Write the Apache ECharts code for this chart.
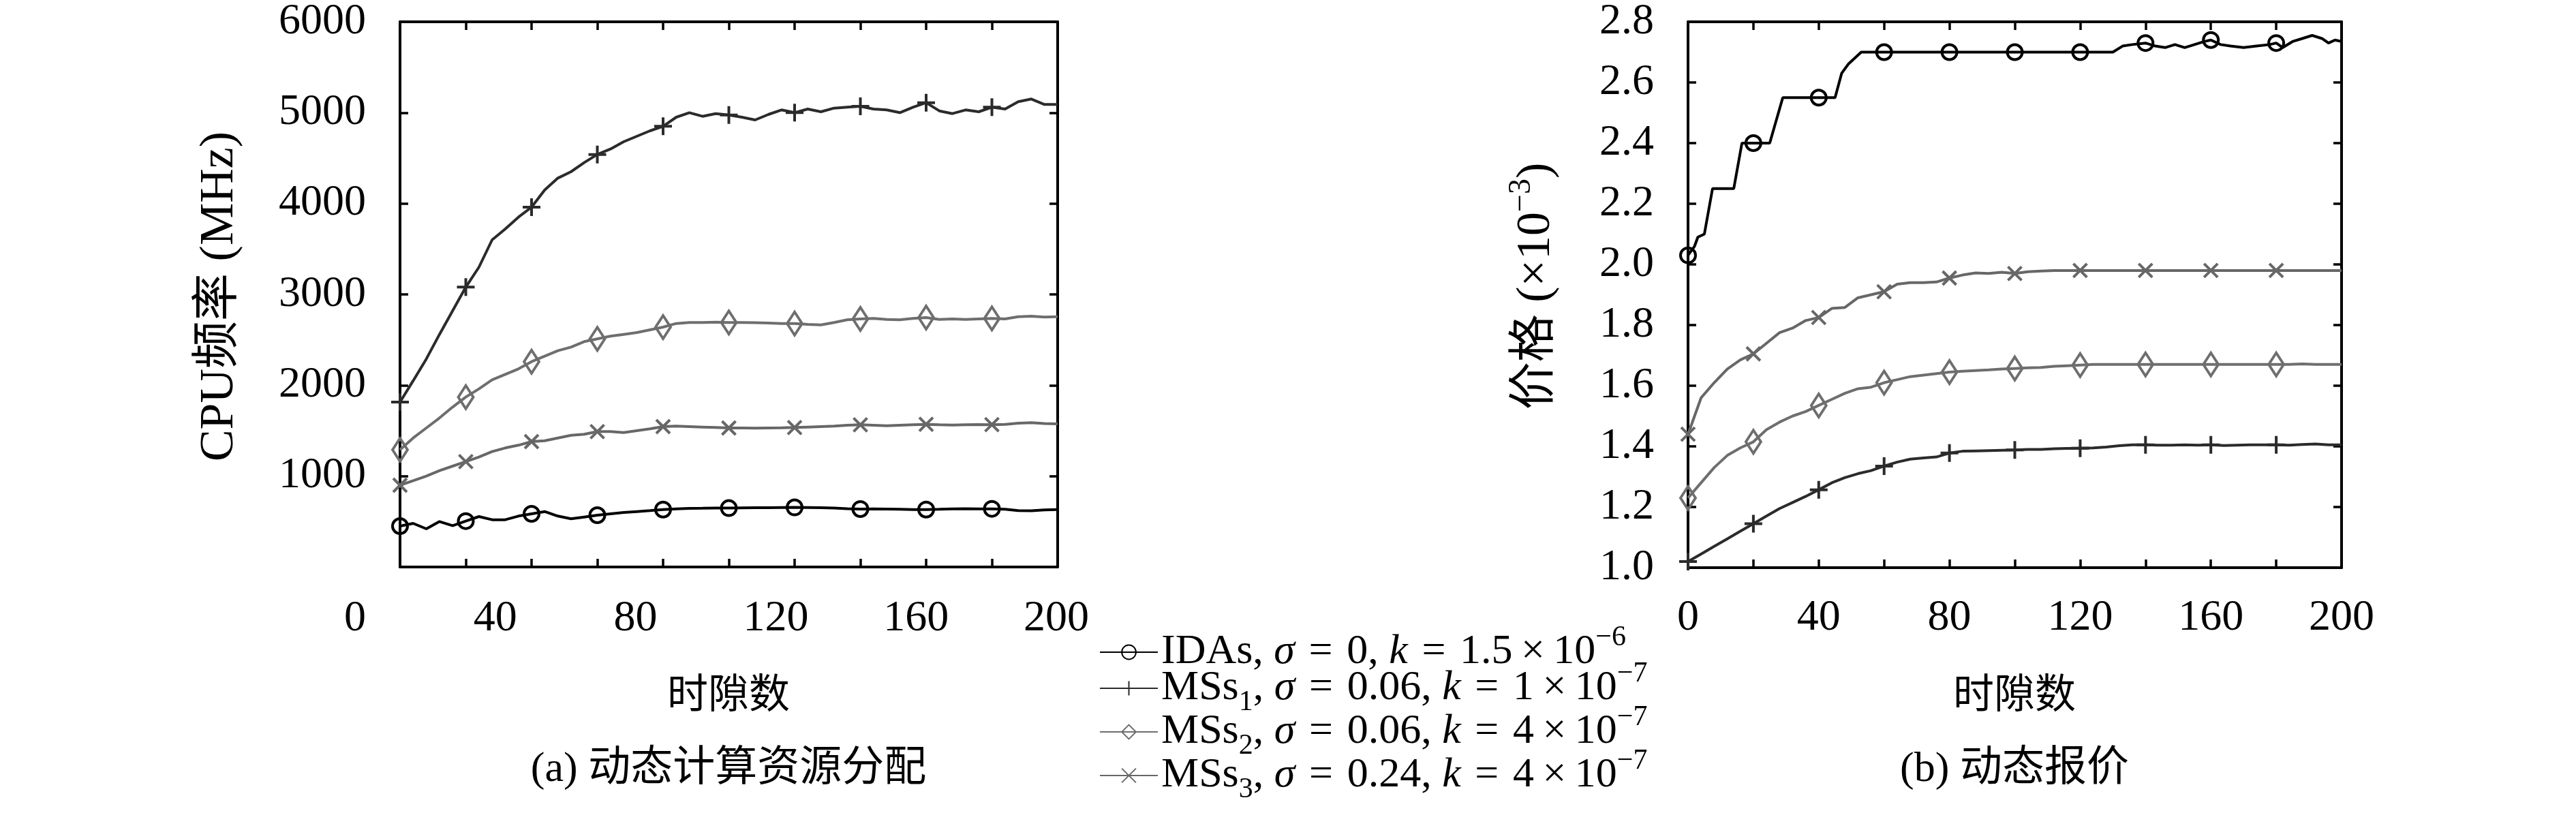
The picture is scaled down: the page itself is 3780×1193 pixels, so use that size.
<!DOCTYPE html>
<html>
<head>
<meta charset="utf-8">
<script src="https://cdn.jsdelivr.net/npm/echarts@6/dist/echarts.min.js"></script>
<style>
  html, body { margin: 0; padding: 0; background: #fff; }
  #chart { width: 3780px; height: 1193px; }
</style>
</head>
<body>
<div id="chart"></div>
<script>
// time slots (shared x values)
const slots = [0,4,8,12,16,20,24,28,32,36,40,44,48,52,56,60,64,68,72,76,80,84,88,92,96,100,
  104,108,112,116,120,124,128,132,136,140,144,148,152,156,160,164,168,172,176,180,184,188,192,196,200];

// (a) CPU frequency, MHz
const cpuIdas = [450,480,420,500,455,505,555,520,520,560,585,610,560,530,550,570,585,600,610,620,
  632,640,645,646,648,648,650,652,653,655,656,655,652,648,642,638,640,638,635,632,
  632,635,640,642,640,640,636,620,618,628,632];
const cpuMs1 = [1815,2050,2290,2560,2820,3080,3300,3600,3720,3850,3960,4150,4280,4350,4450,4540,4600,4680,4740,4800,
  4850,4950,5000,4960,4990,4975,4950,4920,4980,5030,5000,5040,5010,5050,5060,5070,5040,5030,5000,5060,
  5110,5020,4990,5030,5010,5060,5040,5120,5150,5090,5090];
const cpuMs2 = [1290,1420,1530,1640,1760,1870,1960,2060,2120,2180,2260,2320,2380,2420,2480,2510,2540,2560,2580,2610,
  2640,2680,2690,2690,2695,2690,2690,2688,2685,2680,2680,2670,2665,2690,2720,2730,2735,2725,2720,2735,
  2745,2725,2730,2725,2730,2735,2730,2755,2760,2750,2755];
const cpuMs3 = [900,950,1000,1060,1110,1160,1210,1270,1310,1340,1380,1390,1420,1450,1460,1490,1490,1480,1500,1520,
  1545,1550,1545,1540,1535,1530,1530,1528,1530,1532,1535,1540,1545,1550,1560,1565,1560,1555,1560,1565,
  1570,1565,1562,1565,1568,1566,1570,1582,1588,1578,1575];

// (b) price, x10^-3
const priceIdasX = [0,2,3,5,7.5,14,16.5,20,25,29,40,45,47,49,53,60,80,100,120,130,133,136,140,143,146,
  149,152,155,158,160,163,166,170,174,178,180,182,185,188,191,194,196,198,200];
const priceIdas = [2.03,2.06,2.09,2.10,2.25,2.25,2.40,2.40,2.40,2.55,2.55,2.55,2.63,2.66,2.70,2.70,2.70,2.70,2.70,2.70,
  2.72,2.725,2.73,2.72,2.715,2.725,2.715,2.725,2.735,2.74,2.725,2.72,2.715,2.72,2.725,2.73,2.715,2.735,2.745,2.755,
  2.745,2.73,2.74,2.735];
const priceMs1 = [1.02,1.045,1.07,1.095,1.12,1.145,1.17,1.195,1.215,1.235,1.257,1.28,1.297,1.31,1.32,1.335,1.348,1.358,1.362,1.365,
  1.378,1.384,1.385,1.386,1.387,1.388,1.39,1.39,1.392,1.393,1.394,1.395,1.398,1.402,1.405,1.405,1.404,1.404,1.405,1.404,
  1.405,1.403,1.404,1.405,1.405,1.405,1.404,1.406,1.408,1.405,1.405];
const priceMs2 = [1.23,1.28,1.33,1.37,1.395,1.415,1.455,1.48,1.50,1.515,1.535,1.555,1.575,1.59,1.595,1.61,1.62,1.63,1.635,1.64,
  1.645,1.648,1.65,1.652,1.655,1.657,1.659,1.66,1.664,1.666,1.668,1.67,1.67,1.67,1.67,1.67,1.67,1.67,1.67,1.67,
  1.67,1.67,1.67,1.67,1.67,1.67,1.67,1.672,1.67,1.67,1.67];
const priceMs3 = [1.44,1.56,1.61,1.655,1.685,1.705,1.74,1.775,1.79,1.815,1.825,1.855,1.858,1.89,1.90,1.91,1.935,1.94,1.94,1.942,
  1.955,1.965,1.972,1.97,1.974,1.97,1.976,1.978,1.98,1.98,1.98,1.98,1.98,1.98,1.98,1.98,1.98,1.98,1.98,1.98,
  1.98,1.98,1.98,1.98,1.98,1.98,1.98,1.98,1.98,1.98,1.98];

const cpuTicks = [0, 6000, 1000];
const priceTicks = [1.0, 2.8, 0.2];
const slotTicks = [0, 200, 20];

const seriesNames = ['IDAs', 'MSs1', 'MSs2', 'MSs3'];
// \u2004 / \u2009 mimic the math spacing round "=" and "×"
const legendTexts = [
  '{n|IDAs, }{i|σ}{n|\u2004=\u20040, }{i|k}{n|\u2004=\u20041.5\u2009×\u200910}{sup|−6}',
  '{n|MSs}{sub|1}{n|, }{i|σ}{n|\u2004=\u20040.06, }{i|k}{n|\u2004=\u20041\u2009×\u200910}{sup|−7}',
  '{n|MSs}{sub|2}{n|, }{i|σ}{n|\u2004=\u20040.06, }{i|k}{n|\u2004=\u20044\u2009×\u200910}{sup|−7}',
  '{n|MSs}{sub|3}{n|, }{i|σ}{n|\u2004=\u20040.24, }{i|k}{n|\u2004=\u20044\u2009×\u200910}{sup|−7}'
];

const SERIF = "'Liberation Serif', 'Noto Sans CJK SC', serif";
const CJK = "'Noto Sans CJK SC', 'Liberation Serif', sans-serif";

const looks = {
  IDAs: { color: '#000', symbol: 'circle', size: 22, z: 6 },
  MSs1: { color: '#2b2b2b', symbol: 'path://M0,-10L0,10M-10,0L10,0', size: 26, z: 5 },
  MSs2: { color: '#6e6e6e', symbol: 'diamond', size: [22, 34], z: 4 },
  MSs3: { color: '#676767', symbol: 'path://M-10,-10L10,10M-10,10L10,-10', size: 20, z: 3 }
};

function pts(xs, ys) {
  return xs.map(function (x, i) {
    if (x % 20 === 0 && x < 200) return [x, ys[i]];
    return { value: [x, ys[i]], symbol: 'none' };
  });
}

function line(name, xi, yi, data) {
  const lk = looks[name];
  return {
    name: name, type: 'line', xAxisIndex: xi, yAxisIndex: yi, data: data,
    symbol: lk.symbol, symbolSize: lk.size, z: lk.z, clip: false,
    lineStyle: { color: lk.color, width: 4 },
    itemStyle: { color: 'transparent', borderColor: lk.color, borderWidth: 4 },
    emphasis: { disabled: true }
  };
}

const tickStyle = { show: true, inside: true, length: 12, lineStyle: { color: '#000', width: 3.5 } };
const boxLine = { show: true, onZero: false, lineStyle: { color: '#000', width: 4 } };
const labelFont = { fontFamily: SERIF, fontSize: 64, color: '#000' };

function valAxis(grid, pos, t, extra) {
  return Object.assign({
    type: 'value', gridIndex: grid, position: pos, min: t[0], max: t[1], interval: t[2],
    axisLine: boxLine, axisTick: tickStyle, splitLine: { show: false },
    axisLabel: { show: false }
  }, extra || {});
}

const chart = echarts.init(document.getElementById('chart'));
chart.setOption({
  animation: false,
  backgroundColor: '#fff',
  grid: [
    { left: 587, top: 31, width: 965, height: 801 },
    { left: 521, top: 31, width: 1029, height: 801 },
    { left: 2477, top: 31, width: 959, height: 802 }
  ],
  xAxis: [
    valAxis(0, 'bottom', slotTicks),
    valAxis(0, 'top', slotTicks),
    { type: 'value', gridIndex: 1, position: 'bottom', min: 0, max: 200, interval: 40,
      axisLine: { show: false }, axisTick: { show: false }, splitLine: { show: false },
      axisLabel: Object.assign({ margin: 44 }, labelFont) },
    valAxis(2, 'bottom', slotTicks, {
      axisLabel: Object.assign({ margin: 42, formatter: function (v) { return v % 40 === 0 ? String(v) : ''; } }, labelFont)
    }),
    valAxis(2, 'top', slotTicks)
  ],
  yAxis: [
    valAxis(0, 'left', cpuTicks, {
      axisLabel: Object.assign({ margin: 50, showMinLabel: false, formatter: function (v) { return String(v); } }, labelFont)
    }),
    valAxis(0, 'right', cpuTicks),
    { type: 'value', gridIndex: 1, show: false, min: 0, max: 6000 },
    valAxis(2, 'left', priceTicks, {
      axisLabel: Object.assign({ margin: 50, formatter: function (v) { return v.toFixed(1); } }, labelFont)
    }),
    valAxis(2, 'right', priceTicks)
  ],
  legend: {
    data: seriesNames,
    orient: 'vertical',
    left: 1613, top: 915, padding: 0,
    itemWidth: 85, itemHeight: 26, itemGap: -20,
    selectedMode: false,
    formatter: function (name) { return legendTexts[seriesNames.indexOf(name)]; },
    textStyle: {
      color: '#000', fontFamily: SERIF, fontSize: 62,
      rich: {
        n: { fontFamily: SERIF, fontSize: 62, lineHeight: 84 },
        i: { fontFamily: SERIF, fontSize: 62, lineHeight: 84, fontStyle: 'italic' },
        sub: { fontFamily: SERIF, fontSize: 42, verticalAlign: 'bottom' },
        sup: { fontFamily: SERIF, fontSize: 42, verticalAlign: 'top' }
      }
    }
  },
  graphic: [
    { type: 'text', x: 323, y: 435, rotation: Math.PI / 2,
      style: { text: 'CPU频率 (MHz)', font: '70px ' + SERIF, fill: '#000', align: 'center', verticalAlign: 'middle' } },
    { type: 'text', x: 2255, y: 420, rotation: Math.PI / 2,
      style: { text: '{n|价格 (×10}{s|−3}{n|)}', fill: '#000', align: 'center', verticalAlign: 'middle',
        rich: { n: { fontFamily: SERIF, fontSize: 70, lineHeight: 90 },
                s: { fontFamily: SERIF, fontSize: 46, verticalAlign: 'top' } } } },
    { type: 'text', x: 1069, y: 1016,
      style: { text: '时隙数', font: '60px ' + CJK, fill: '#000', align: 'center', verticalAlign: 'middle' } },
    { type: 'text', x: 2956, y: 1016,
      style: { text: '时隙数', font: '60px ' + CJK, fill: '#000', align: 'center', verticalAlign: 'middle' } },
    { type: 'text', x: 1069, y: 1130,
      style: { text: '(a) 动态计算资源分配', font: '62px ' + SERIF, fill: '#000', align: 'center', verticalAlign: 'middle' } },
    { type: 'text', x: 2956, y: 1130,
      style: { text: '(b) 动态报价', font: '62px ' + SERIF, fill: '#000', align: 'center', verticalAlign: 'middle' } }
  ],
  series: [
    line('MSs3', 0, 0, pts(slots, cpuMs3)),
    line('MSs2', 0, 0, pts(slots, cpuMs2)),
    line('MSs1', 0, 0, pts(slots, cpuMs1)),
    line('IDAs', 0, 0, pts(slots, cpuIdas)),
    line('MSs3', 3, 3, pts(slots, priceMs3)),
    line('MSs2', 3, 3, pts(slots, priceMs2)),
    line('MSs1', 3, 3, pts(slots, priceMs1)),
    line('IDAs', 3, 3, pts(priceIdasX, priceIdas))
  ]
});
</script>
</body>
</html>
